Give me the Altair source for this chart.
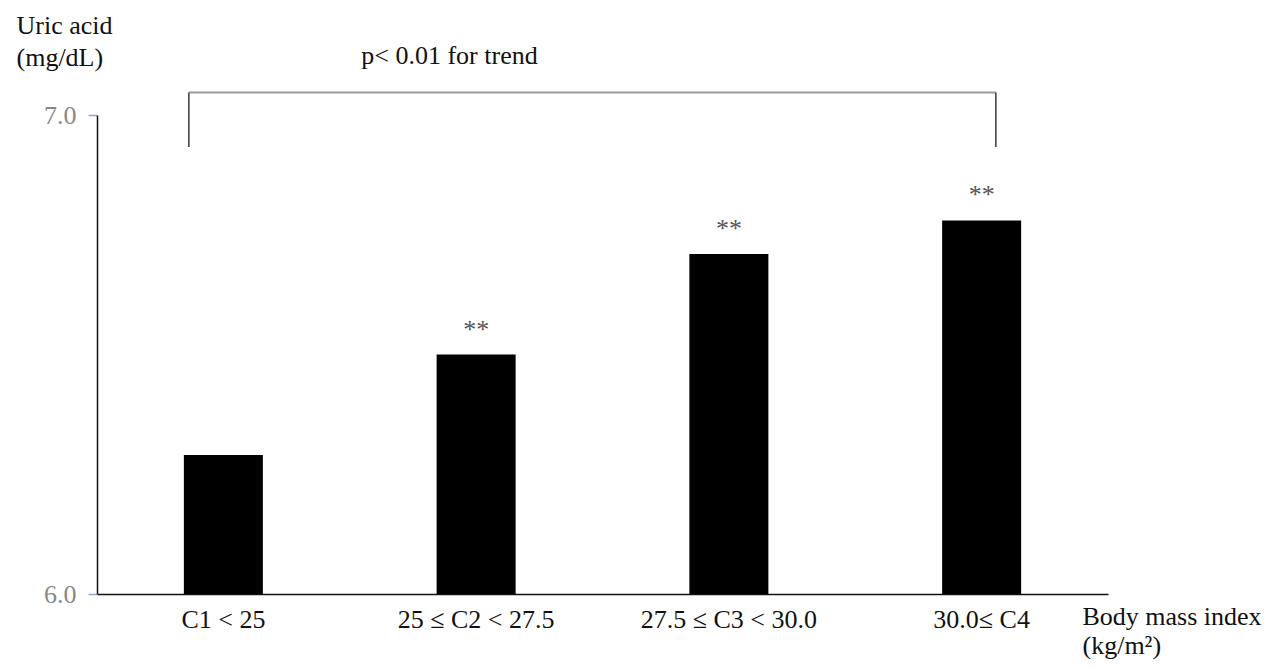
import altair as alt
import pandas as pd

# ---- data ----
categories = ["C1 < 25", "25 ≤ C2 < 27.5", "27.5 ≤ C3 < 30.0", "30.0≤ C4"]
uric_acid = [6.29, 6.50, 6.71, 6.78]
significance = ["", "**", "**", "**"]
baseline_value = [6.0, 6.0, 6.0, 6.0]
y_ticks = [6.0, 7.0]
bracket_start = ["C1 < 25"]
bracket_end = ["30.0≤ C4"]
bracket_top = [7.047]
bracket_bottom = [6.933]
trend_label = ["p< 0.01 for trend"]
trend_category = ["25 ≤ C2 < 27.5"]
trend_y = [7.106]

FONT = "Liberation Serif"
TXT = "#111111"

df = pd.DataFrame({"cat": categories, "value": uric_acid,
                   "base": baseline_value, "sig": significance})
left_df = pd.DataFrame({"cat": bracket_start, "value": bracket_top, "bottom": bracket_bottom})
right_df = pd.DataFrame({"cat": bracket_end, "value": bracket_top, "bottom": bracket_bottom})
hbar_df = pd.DataFrame({"cat": bracket_start, "end": bracket_end, "value": bracket_top})
trend_df = pd.DataFrame({"cat": trend_category, "value": trend_y, "label": trend_label})

x_scale = alt.Scale(domain=categories, paddingInner=0.6874, paddingOuter=0.3437)
y_scale = alt.Scale(domain=[6.0, 7.0], nice=False, zero=False)

X_TITLE = ["Body mass index", "(kg/m²)"]
Y_TITLE = ["Uric acid", "(mg/dL)"]

x_axis = alt.Axis(
    title=X_TITLE,
    labelAngle=0, ticks=False, tickSize=0, labelPadding=33,
    labelBaseline="alphabetic", labelFontSize=26, labelFont=FONT,
    labelColor=TXT, labelLimit=400, labelOverlap=False,
    domainColor=TXT, domainWidth=1.5,
    titleFont=FONT, titleFontSize=26, titleFontWeight="normal", titleColor=TXT,
    titleAngle=0, titleAlign="left", titleBaseline="alphabetic",
    titleX=985, titleY=30, titleLineHeight=29, grid=False,
)
y_axis = alt.Axis(
    values=y_ticks, format=".1f",
    title=Y_TITLE,
    titleAngle=0, titleAlign="left", titleBaseline="alphabetic",
    titleX=-81, titleY=-82, titleLineHeight=32,
    titleFont=FONT, titleFontSize=26, titleFontWeight="normal", titleColor=TXT,
    labelFont=FONT, labelFontSize=26, labelColor="#888888", labelPadding=12,
    tickSize=9, tickColor="#8da6d8", tickWidth=1.5,
    domainColor=TXT, domainWidth=1.5, grid=False,
)


def xenc(band=0.5):
    return alt.X("cat:N", scale=x_scale, sort=categories, axis=x_axis,
                 bandPosition=band, title=X_TITLE)


def yenc():
    return alt.Y("value:Q", scale=y_scale, axis=y_axis, title=Y_TITLE)


base = alt.Chart(df)

bars = base.mark_bar(color="black").encode(
    x=alt.X("cat:N", scale=x_scale, sort=categories, axis=x_axis, title=X_TITLE),
    y=yenc(),
    y2="base:Q",
)

stars = base.mark_text(dy=-17, baseline="alphabetic", fontSize=26,
                       font=FONT, color="#555555").encode(
    x=xenc(0.5),
    y=yenc(),
    text="sig:N",
)

left_rule = alt.Chart(left_df).mark_rule(color="#444444", strokeWidth=1.6).encode(
    x=xenc(0.063),
    y=yenc(),
    y2="bottom:Q",
)
right_rule = alt.Chart(right_df).mark_rule(color="#444444", strokeWidth=1.6).encode(
    x=xenc(0.68),
    y=yenc(),
    y2="bottom:Q",
)
top_rule = alt.Chart(hbar_df).mark_rule(color="#9a9a9a", strokeWidth=1.8).encode(
    x=xenc(0.063),
    x2=alt.X2("end:N", bandPosition=0.68),
    y=yenc(),
)

trend = alt.Chart(trend_df).mark_text(align="center", baseline="alphabetic",
                                      fontSize=26, font=FONT, color=TXT).encode(
    x=xenc(0.163),
    y=yenc(),
    text="label:N",
)

chart = alt.layer(bars, stars, top_rule, left_rule, right_rule, trend).properties(
    width=1011, height=479,
    autosize=alt.AutoSizeParams(type="none"),
    padding={"left": 89, "top": 107, "right": 156, "bottom": 66},
    background="white",
).configure_view(stroke=None)

chart.save("out.html", embed_options={"renderer": "svg", "actions": False})
